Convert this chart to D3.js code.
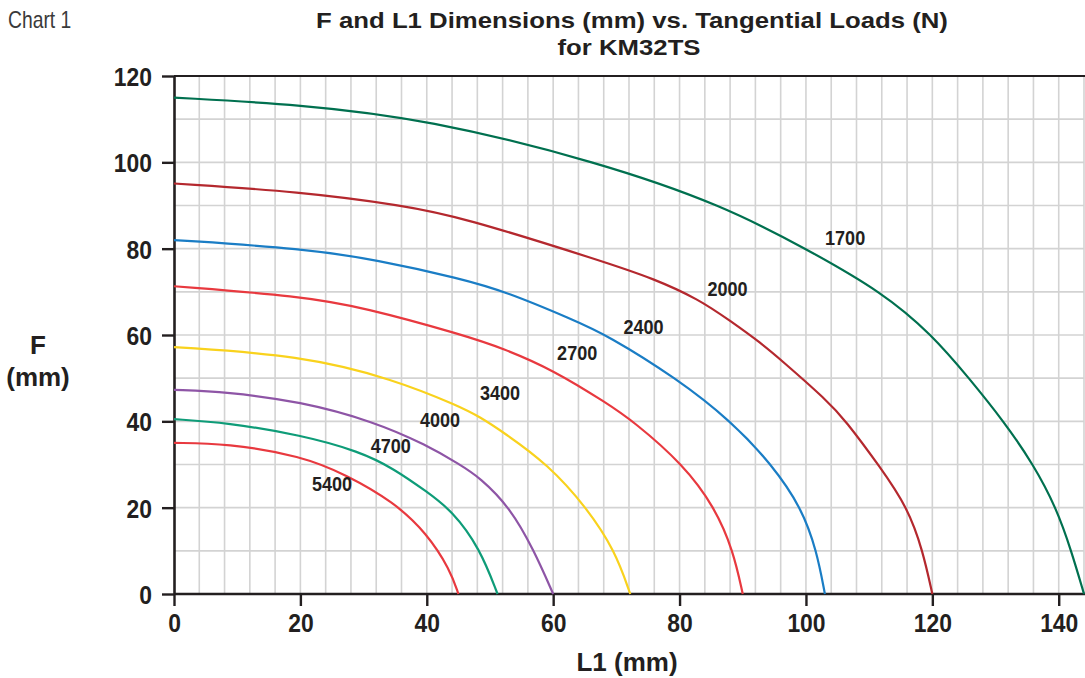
<!DOCTYPE html>
<html><head><meta charset="utf-8">
<script src="https://cdn.jsdelivr.net/npm/d3@7/dist/d3.min.js"></script>
<style>body{margin:0;background:#fff}</style>
</head><body>
<svg id="c" width="1085" height="678"></svg>
<script>
// ---- data ----
const xTicks = [0, 20, 40, 60, 80, 100, 120, 140];
const yTicks = [0, 20, 40, 60, 80, 100, 120];
const loads = ["1700", "2000", "2400", "2700", "3400", "4000", "4700", "5400"];
const curve1700 = [[0,115],[20,113.4],[40,110],[67.4,100],[86.9,90],[100,80],[112,70],[120,60],[125.8,50],[131.3,40],[136,30],[139.6,20],[142,10],[144,0]];
const curve2000 = [[0,95.1],[20,93.2],[36.3,90],[45.3,87.4],[68,77],[76,73],[83,68.3],[88,63.3],[93,58],[96,54.3],[103.3,44.9],[106.2,40.3],[111.7,29.5],[116.1,20],[118.5,10],[120,0]];
const curve2400 = [[0,82],[20.7,80],[32.1,77.4],[45.3,73.1],[52.6,70],[63.2,63.5],[68.5,60],[79.5,50],[88.2,40],[94.6,30],[99.3,20],[101.7,10],[103,0]];
const curve2700 = [[0,71.3],[20,69],[30,66.4],[45.8,60],[52.1,56.9],[60,51.9],[68.5,44.2],[72.7,40],[80.6,30],[85.6,20],[88.5,10],[90,0]];
const curve3400 = [[0,57.2],[20,55.3],[34.7,49.8],[45.3,43.4],[48.4,41],[52.1,37.5],[59.2,30],[65.3,20],[69.8,10],[72.2,0]];
const curve4000 = [[0,47.3],[8.3,46.8],[20,44.6],[31.5,40],[40,34.5],[45.2,30],[48.4,27],[53.2,20],[57,10],[60,0]];
const curve4700 = [[0,40.5],[8.3,39.7],[20.2,36.8],[29.4,33],[34.7,29.1],[40,23.7],[44,19.3],[48.4,10.6],[51.2,0]];
const curve5400 = [[0,35],[8.3,34.9],[20.2,32],[27.3,27.6],[34.7,21.4],[40,14.1],[43.7,5.6],[45,0]];
const labelAt = [[106.2,82.7],[87.6,70.7],[74.3,62.0],[63.8,56.0],[51.6,46.6],[42.1,40.5],[34.3,34.4],[25.0,25.5]];
const colors = ["#00704f","#b4282e","#1a7dc5","#e8393f","#f9d21d","#8e55a6","#0e9c78","#e8393f"];
const curves = [curve1700, curve2000, curve2400, curve2700, curve3400, curve4000, curve4700, curve5400];

// ---- chart ----
const svg = d3.select("#c");
const x = d3.scaleLinear().domain([0, 144]).range([174, 1084]);
const y = d3.scaleLinear().domain([0, 120]).range([594, 76]);
const SANS = "'Liberation Sans',Arial,Helvetica,sans-serif";
const INK = "#231f20";

// grid
const gx = d3.range(4, 145, 4);
const gy = d3.range(10, 120, 10);
svg.append("g").selectAll("line").data(gx).join("line")
  .attr("x1", d => x(d)).attr("x2", d => x(d)).attr("y1", y(0)).attr("y2", y(120))
  .attr("stroke", "#d3d3d3").attr("stroke-width", 1.6);
svg.append("g").selectAll("line").data(gy).join("line")
  .attr("x1", x(0)).attr("x2", x(144)).attr("y1", d => y(d)).attr("y2", d => y(d))
  .attr("stroke", "#d3d3d3").attr("stroke-width", 1.6);

// top border
svg.append("line").attr("x1", x(0)).attr("x2", 1085).attr("y1", y(120)).attr("y2", y(120))
  .attr("stroke", INK).attr("stroke-width", 2.2);

// axes
const SX = 0.88;
const xAxis = svg.append("g").attr("transform", `translate(0,${y(0)})`)
  .call(d3.axisBottom(x).tickValues(xTicks).tickSize(12).tickPadding(8).tickSizeOuter(0));
const yAxis = svg.append("g").attr("transform", `translate(${x(0)},0)`)
  .call(d3.axisLeft(y).tickValues(yTicks).tickSize(12).tickPadding(10).tickSizeOuter(0));
[xAxis, yAxis].forEach(a => {
  a.select(".domain").attr("stroke", INK).attr("stroke-width", 2.6);
  a.selectAll(".tick line").attr("stroke", INK).attr("stroke-width", 2.4);
  a.selectAll(".tick text").attr("fill", INK).attr("transform", `scale(${SX},1)`)
    .style("font-family", SANS).style("font-weight", "bold").style("font-size", "26px");
});
xAxis.select(".domain").attr("d", `M${x(0)},0H1085`);
yAxis.selectAll(".tick text").attr("x", -22 / SX).attr("dy", "0.36em");

// curves
const line = d3.line().x(d => x(d[0])).y(d => y(d[1])).curve(d3.curveBasis);
svg.append("g").selectAll("path").data(curves).join("path")
  .attr("d", line).attr("fill", "none")
  .attr("stroke", (d, i) => colors[i]).attr("stroke-width", 2.2);

// curve labels
svg.append("g").selectAll("text").data(loads).join("text")
  .attr("transform", (d, i) => `translate(${x(labelAt[i][0])},${y(labelAt[i][1])}) scale(0.86,1)`)
  .attr("text-anchor", "middle").attr("dy", "0.36em")
  .style("font-family", SANS).style("font-weight", "bold").style("font-size", "21px")
  .attr("fill", INK).text(d => d);

// titles
svg.append("text").attr("transform", "translate(8,28) scale(0.84,1)").text("Chart 1")
  .style("font-family", SANS).style("font-size", "23px").attr("fill", "#3a3a3a");
const title = svg.append("g").style("font-family", SANS).style("font-weight", "bold")
  .style("font-size", "23px").attr("fill", INK).attr("text-anchor", "middle");
title.append("text").attr("transform", "translate(632,28) scale(1.12,1)").text("F and L1 Dimensions (mm) vs. Tangential Loads (N)");
title.append("text").attr("transform", "translate(629,55) scale(1.12,1)").text("for KM32TS");
const axt = svg.append("g").style("font-family", SANS).style("font-weight", "bold")
  .style("font-size", "26px").attr("fill", INK).attr("text-anchor", "middle");
axt.append("text").attr("x", 627).attr("y", 671).text("L1 (mm)");
axt.append("text").attr("x", 38).attr("y", 354).text("F");
axt.append("text").attr("x", 38).attr("y", 386).text("(mm)");
</script>
</body></html>
